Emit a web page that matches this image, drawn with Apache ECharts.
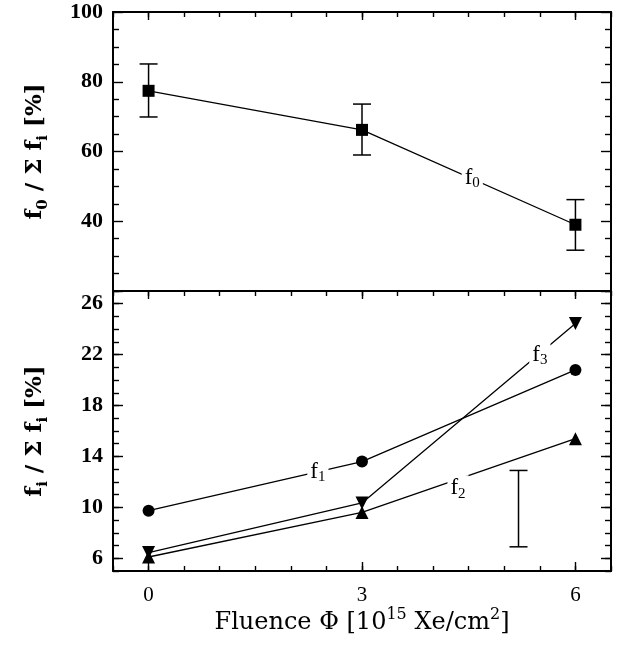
<!DOCTYPE html>
<html>
<head>
<meta charset="utf-8">
<script src="https://cdn.jsdelivr.net/npm/echarts@6/dist/echarts.min.js"></script>
<style>
html,body{margin:0;padding:0;background:#fff;}
#chart{width:619px;height:646px;}
</style>
</head>
<body>
<div id="chart"></div>
<script>
// ---- data ----
const fluence = [0, 3, 6];
const f0 = [77.4, 66.2, 39.0];
const f0Low = [69.9, 59.0, 31.7];
const f0High = [85.1, 73.6, 46.2];
const f1 = [9.74, 13.6, 20.8];
const f2 = [6.1, 9.6, 15.4];
const f3 = [6.45, 10.35, 24.45];
const repErrX = [5.2];
const repErrLow = [6.9];
const repErrHigh = [12.9];
const xTicks = [0, 3, 6];
const topYTicks = [40, 60, 80, 100];
const botYTicks = [6, 10, 14, 18, 22, 26];
// curve labels: [x, y, subscript]
const topCurveLabels = [[4.55, 52.5, '0']];
const botCurveLabels = [[2.38, 12.8, '1'], [4.35, 11.5, '2'], [5.5, 22.0, '3']];

// ---- styles ----
const SERIF = '"Liberation Serif", "DejaVu Serif", serif';
const WIDE_SERIF = '"DejaVu Serif", "Liberation Serif", serif';
const BLACK = '#000';
const frameLine = {show: true, onZero: false, lineStyle: {color: BLACK, width: 2}};
const noLine = {show: false, onZero: false};
const tickStyle = {color: BLACK, width: 1.4};

function zipXY(xs, ys) { return xs.map((x, i) => [x, ys[i]]); }
function zipErr(xs, lo, hi) { return xs.map((x, i) => [x, lo[i], hi[i]]); }

function xAx(grid, pos, opts) {
  return Object.assign({
    gridIndex: grid, type: 'value', position: pos, min: -0.5, max: 6.5,
    axisLine: noLine, axisTick: {show: false}, axisLabel: {show: false},
    splitLine: {show: false}
  }, opts);
}
function yAx(grid, pos, min, max, opts) {
  return Object.assign({
    gridIndex: grid, type: 'value', position: pos, min: min, max: max,
    axisLine: noLine, axisTick: {show: false}, axisLabel: {show: false},
    splitLine: {show: false}
  }, opts);
}

const richName = {
  b: {fontFamily: WIDE_SERIF, fontWeight: 'bold', fontSize: 23, lineHeight: 32, color: BLACK},
  bs: {fontFamily: WIDE_SERIF, fontWeight: 'bold', fontSize: 15, lineHeight: 15, verticalAlign: 'bottom', color: BLACK}
};
const richX = {
  r: {fontFamily: WIDE_SERIF, fontSize: 24, lineHeight: 32, color: BLACK},
  sup: {fontFamily: WIDE_SERIF, fontSize: 16, lineHeight: 18, verticalAlign: 'top', color: BLACK}
};
const richCurve = {
  f: {fontFamily: SERIF, fontSize: 23, lineHeight: 26, color: BLACK},
  s: {fontFamily: SERIF, fontSize: 15, lineHeight: 14, verticalAlign: 'bottom', color: BLACK}
};

const yLabelStyle = {show: true, fontFamily: SERIF, fontWeight: 'bold', fontSize: 22, color: BLACK, margin: 10, padding: [7, 0, 0, 0]};

function errRender(params, api) {
  const x = api.value(0), lo = api.value(1), hi = api.value(2);
  const a = api.coord([x, lo]), b = api.coord([x, hi]);
  const hw = 9;
  const st = {stroke: BLACK, lineWidth: 1.5};
  return {type: 'group', children: [
    {type: 'line', shape: {x1: a[0], y1: a[1], x2: b[0], y2: b[1]}, style: st},
    {type: 'line', shape: {x1: a[0] - hw, y1: a[1], x2: a[0] + hw, y2: a[1]}, style: st},
    {type: 'line', shape: {x1: b[0] - hw, y1: b[1], x2: b[0] + hw, y2: b[1]}, style: st}
  ]};
}

function lineSeries(name, xi, yi, data, symbol, size, rotate) {
  return {
    name: name, type: 'line', xAxisIndex: xi, yAxisIndex: yi, data: data,
    symbol: symbol, symbolSize: size, symbolRotate: rotate || 0, showSymbol: true,
    lineStyle: {color: BLACK, width: 1.3}, itemStyle: {color: BLACK, opacity: 1},
    emphasis: {disabled: true}, z: 3
  };
}
function labelSeries(xi, yi, data) {
  return {
    type: 'scatter', xAxisIndex: xi, yAxisIndex: yi, data: data, symbolSize: 0, z: 10,
    itemStyle: {opacity: 1, color: BLACK},
    label: {
      show: true, position: 'inside', backgroundColor: '#fff', padding: [0, 3],
      color: BLACK, opacity: 1, textBorderWidth: 0,
      formatter: p => '{f|f}{s|' + p.value[2] + '}', rich: richCurve
    },
    emphasis: {disabled: true}
  };
}

const chart = echarts.init(document.getElementById('chart'), null, {renderer: 'canvas'});
chart.setOption({
  animation: false,
  backgroundColor: '#fff',
  grid: [
    {left: 113, top: 12, width: 498, height: 279},
    {left: 113, top: 291, width: 498, height: 280}
  ],
  xAxis: [
    // grid 0
    xAx(0, 'top', {axisLine: frameLine, interval: 0.5, axisTick: {show: true, inside: true, length: 5, lineStyle: tickStyle}}),
    xAx(0, 'top', {axisTick: {show: true, inside: true, length: 8, customValues: xTicks, lineStyle: tickStyle}}),
    xAx(0, 'bottom', {axisLine: frameLine}),
    // grid 1
    xAx(1, 'bottom', {
      axisLine: frameLine, interval: 0.5,
      axisTick: {show: true, inside: true, length: 5, lineStyle: tickStyle},
      axisLabel: {show: true, customValues: xTicks, fontFamily: SERIF, fontSize: 21, color: BLACK, margin: 14},
      name: '{r|Fluence Φ [10}{sup|15}{r| Xe/cm}{sup|2}{r|]}',
      nameLocation: 'middle', nameGap: 34, nameTextStyle: {rich: richX}
    }),
    xAx(1, 'bottom', {axisTick: {show: true, inside: true, length: 9, customValues: xTicks, lineStyle: tickStyle}}),
    xAx(1, 'top', {axisLine: frameLine, interval: 0.5, axisTick: {show: true, inside: true, length: 5, lineStyle: tickStyle}}),
    xAx(1, 'top', {axisTick: {show: true, inside: true, length: 8, customValues: xTicks, lineStyle: tickStyle}})
  ],
  yAxis: [
    // grid 0
    yAx(0, 'left', 20, 100, {
      interval: 20, axisLine: frameLine,
      axisTick: {show: true, inside: true, length: 10, lineStyle: tickStyle},
      minorTick: {show: true, splitNumber: 4, length: 6, lineStyle: tickStyle},
      axisLabel: Object.assign({customValues: topYTicks}, yLabelStyle),
      name: '{b|f}{bs|0}{b| / Σ f}{bs|i}{b| [%]}', nameLocation: 'middle', nameGap: 62,
      nameTextStyle: {rich: richName}
    }),
    yAx(0, 'right', 20, 100, {
      interval: 20, axisLine: frameLine,
      axisTick: {show: true, inside: true, length: 10, lineStyle: tickStyle},
      minorTick: {show: true, splitNumber: 4, length: 6, lineStyle: tickStyle}
    }),
    // grid 1
    yAx(1, 'left', 5, 27, {
      axisLine: frameLine,
      axisTick: {show: true, inside: true, length: 10, customValues: botYTicks, lineStyle: tickStyle},
      axisLabel: Object.assign({customValues: botYTicks}, yLabelStyle),
      name: '{b|f}{bs|i}{b| / Σ f}{bs|i}{b| [%]}', nameLocation: 'middle', nameGap: 62,
      nameTextStyle: {rich: richName}
    }),
    yAx(1, 'left', 5, 27, {interval: 1, axisTick: {show: true, inside: true, length: 6, lineStyle: tickStyle}}),
    yAx(1, 'right', 5, 27, {
      axisLine: frameLine,
      axisTick: {show: true, inside: true, length: 10, customValues: botYTicks, lineStyle: tickStyle}
    }),
    yAx(1, 'right', 5, 27, {interval: 1, axisTick: {show: true, inside: true, length: 6, lineStyle: tickStyle}})
  ],
  series: [
    lineSeries('f0', 2, 0, zipXY(fluence, f0), 'rect', 12),
    {
      type: 'custom', xAxisIndex: 2, yAxisIndex: 0, renderItem: errRender,
      data: zipErr(fluence, f0Low, f0High), encode: {x: 0, y: [1, 2]}, z: 2
    },
    labelSeries(2, 0, topCurveLabels),
    lineSeries('f1', 3, 2, zipXY(fluence, f1), 'circle', 12),
    lineSeries('f2', 3, 2, zipXY(fluence, f2), 'triangle', 13),
    lineSeries('f3', 3, 2, zipXY(fluence, f3), 'triangle', 13, 180),
    {
      type: 'custom', xAxisIndex: 3, yAxisIndex: 2, renderItem: errRender,
      data: zipErr(repErrX, repErrLow, repErrHigh), encode: {x: 0, y: [1, 2]}, z: 2
    },
    labelSeries(3, 2, botCurveLabels)
  ]
});
</script>
</body>
</html>
